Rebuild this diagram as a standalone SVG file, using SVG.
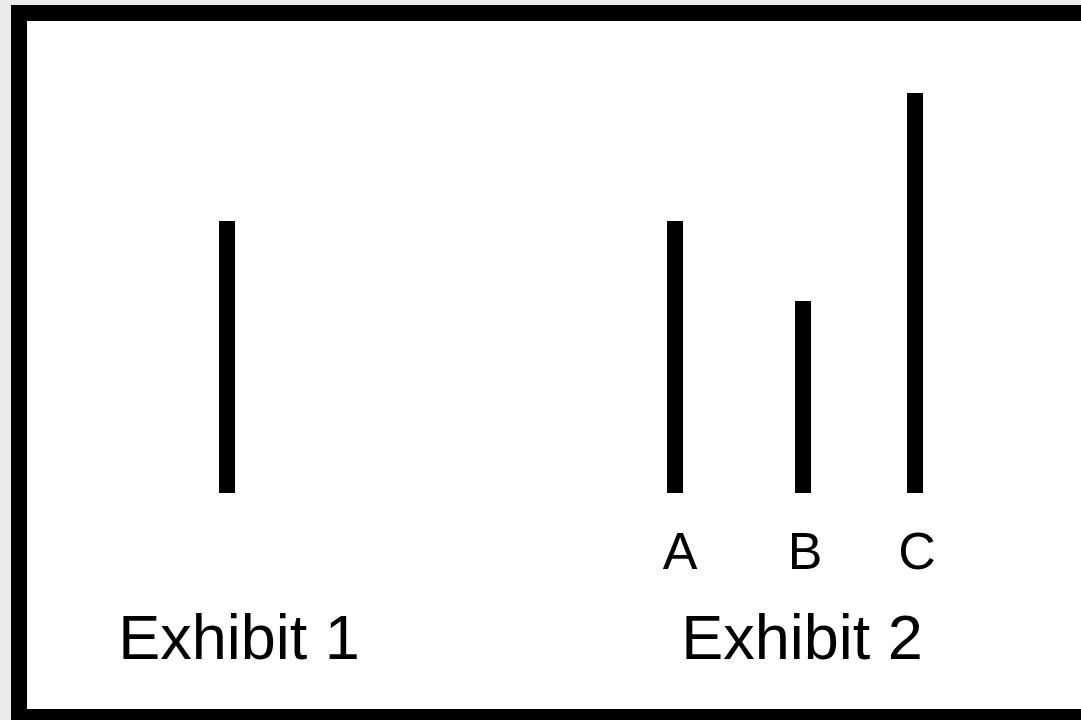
<svg xmlns="http://www.w3.org/2000/svg" width="1081" height="720" viewBox="0 0 1081 720">
<style>
.bar{fill:#000}
.lbl{font-family:"Liberation Sans",Arial,sans-serif;fill:#000;text-anchor:middle}
</style>
<rect x="0" y="0" width="1081" height="720" fill="#ebebeb"/>
<rect id="frame" x="19" y="13" width="1100" height="704" fill="#fff" stroke="#000" stroke-width="16"/>
<g id="exhibit1">
<rect class="bar" x="219" y="221" width="16" height="272"/>
<text class="lbl" x="239" y="659" font-size="63">Exhibit 1</text>
</g>
<g id="exhibit2">
<g id="barA"><rect class="bar" x="667" y="221" width="16" height="272"/><text class="lbl" x="680" y="569" font-size="52">A</text></g>
<g id="barB"><rect class="bar" x="795" y="301" width="16" height="192"/><text class="lbl" x="805" y="569" font-size="52">B</text></g>
<g id="barC"><rect class="bar" x="907" y="93" width="16" height="400"/><text class="lbl" x="917" y="569" font-size="52">C</text></g>
<text class="lbl" x="802" y="659" font-size="63">Exhibit 2</text>
</g>
<g id="connectors"/>
</svg>
